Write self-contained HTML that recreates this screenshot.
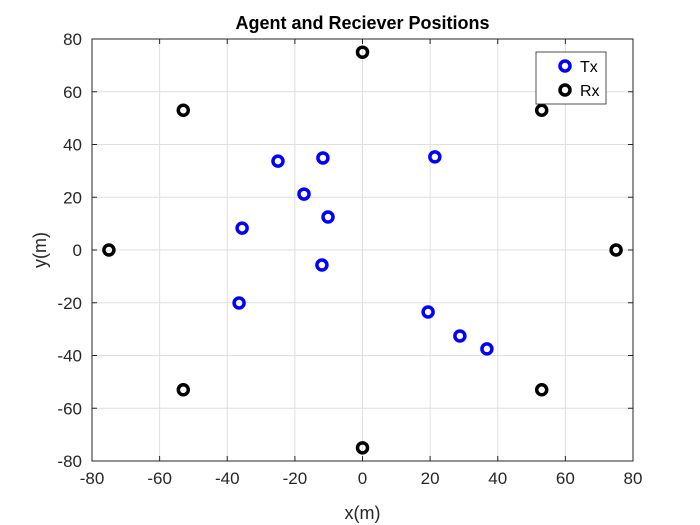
<!DOCTYPE html>
<html><head><meta charset="utf-8"><style>
body{margin:0;background:#fff;}
svg{display:block;font-family:"Liberation Sans",sans-serif;}
</style></head><body>
<svg id="chart" width="700" height="525" viewBox="0 0 700 525">
<rect width="700" height="525" fill="#fff"/>
<g id="grid"></g>
<g id="axes"></g>
<g id="marks"></g>
<text x="362.5" y="29" text-anchor="middle" font-size="18" font-weight="bold" fill="#000">Agent and Reciever Positions</text>
<text x="362.5" y="519" text-anchor="middle" font-size="18" fill="#262626">x(m)</text>
<text transform="translate(46,250) rotate(-90)" text-anchor="middle" font-size="18" fill="#262626">y(m)</text>
<g>
<rect x="536" y="52" width="70" height="52" fill="#fff" stroke="#262626" stroke-width="0.8"/>
<circle cx="565" cy="66" r="5" fill="none" stroke="#0000ff" stroke-width="3.5"/>
<text x="580" y="72" font-size="16" fill="#000">Tx</text>
<circle cx="565" cy="90" r="5" fill="none" stroke="#000" stroke-width="3.5"/>
<text x="580" y="96" font-size="16" fill="#000">Rx</text>
</g>
</svg>
<script>
const xTicks=[-80,-60,-40,-20,0,20,40,60,80];
const yTicks=[-80,-60,-40,-20,0,20,40,60,80];
const txX=[-25,-11.7,21.4,-17.3,-10.2,-35.6,-12,-36.5,19.4,28.8,36.8];
const txY=[33.7,34.9,35.3,21.2,12.5,8.3,-5.7,-20.1,-23.5,-32.6,-37.5];
const rxX=[75,53,0,-53,-75,-53,0,53];
const rxY=[0,53,75,53,0,-53,-75,-53];
const L=92,R=633,T=39,B=461;
const sx=v=>L+(v+80)/160*(R-L);
const sy=v=>B-(v+80)/160*(B-T);
const NS="http://www.w3.org/2000/svg";
function mk(tag,attrs,parent){const e=document.createElementNS(NS,tag);for(const k in attrs)e.setAttribute(k,attrs[k]);parent.appendChild(e);return e;}
const grid=document.getElementById('grid'),axes=document.getElementById('axes'),marks=document.getElementById('marks');
xTicks.forEach(t=>{
 const g=mk('line',{x1:sx(t),x2:sx(t),y1:T,y2:B,stroke:'#dfdfdf','stroke-width':1},grid);
 
 
 mk('line',{x1:sx(t),x2:sx(t),y1:B,y2:B-5,stroke:'#262626'},axes);
 mk('line',{x1:sx(t),x2:sx(t),y1:T,y2:T+5,stroke:'#262626'},axes);
 const tx=mk('text',{x:sx(t),y:B+23,'text-anchor':'middle','font-size':17,fill:'#262626'},axes);
 tx.textContent=t;
 
 
});
yTicks.forEach(t=>{
 const g=mk('line',{x1:L,x2:R,y1:sy(t),y2:sy(t),stroke:'#dfdfdf','stroke-width':1},grid);
 
 
 mk('line',{x1:L,x2:L+5,y1:sy(t),y2:sy(t),stroke:'#262626'},axes);
 mk('line',{x1:R,x2:R-5,y1:sy(t),y2:sy(t),stroke:'#262626'},axes);
 const tx=mk('text',{x:L-10,y:sy(t)+6,'text-anchor':'end','font-size':17,fill:'#262626'},axes);
 tx.textContent=t;
 
 
});
const box=mk('rect',{x:L,y:T,width:R-L,height:B-T,fill:'none',stroke:'#262626','stroke-width':1},axes);


txX.forEach((x,i)=>{
 const c=mk('circle',{cx:sx(x),cy:sy(txY[i]),r:5,fill:'none',stroke:'#0000ff','stroke-width':3.5},marks);
 
 
});
rxX.forEach((x,i)=>{
 const c=mk('circle',{cx:sx(x),cy:sy(rxY[i]),r:5,fill:'none',stroke:'#000','stroke-width':3.5},marks);
 
 
});
</script>
</body></html>
